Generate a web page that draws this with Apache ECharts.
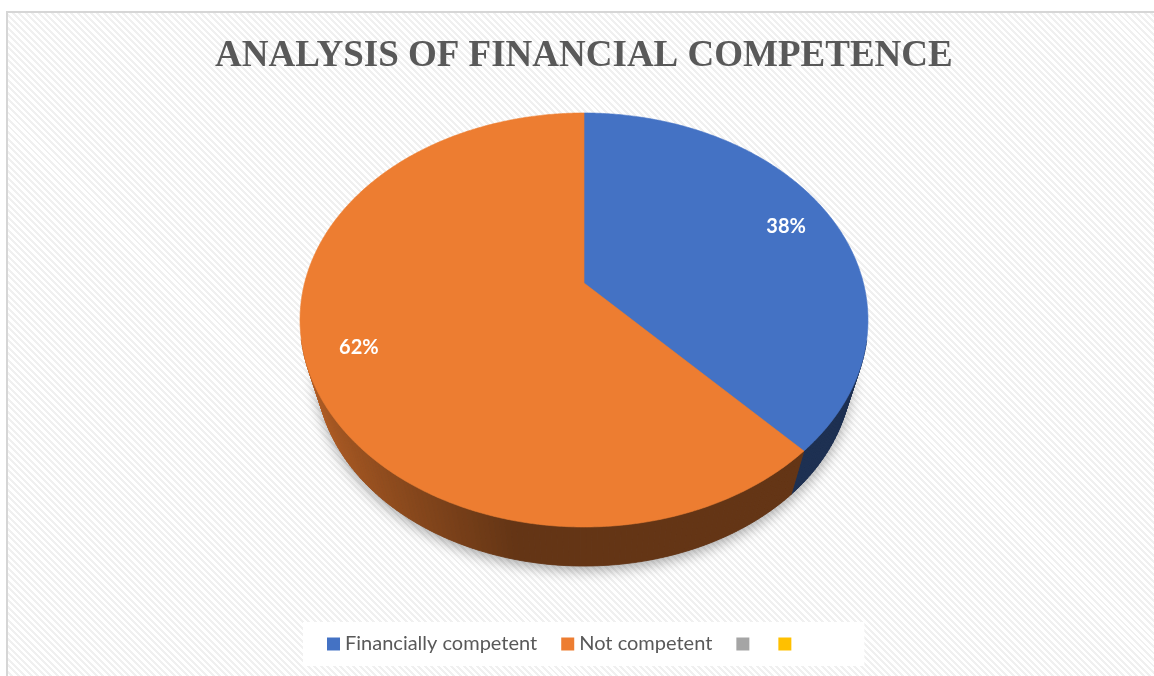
<!DOCTYPE html>
<html>
<head>
<meta charset="utf-8">
<title>Analysis of Financial Competence</title>
<script src="https://cdn.jsdelivr.net/npm/echarts@6/dist/echarts.min.js"></script>
<style>
  html, body { margin: 0; padding: 0; background: #ffffff; }
  #frame {
    position: absolute; left: 6px; top: 11px; width: 1170px; height: 690px;
    border-left: 2px solid #d6d6d6; border-top: 2px solid #d6d6d6;
    background: repeating-linear-gradient(45deg, #ffffff 0px, #ffffff 2.5px, #f0f0f0 2.5px, #f0f0f0 4.6px);
  }
  #chart { position: absolute; left: 0; top: 0; width: 1154px; height: 676px; }
</style>
</head>
<body>
<div id="frame"></div>
<div id="chart"></div>
<script>
// Survey result: share of respondents by financial competence
const titleText = 'ANALYSIS OF FINANCIAL COMPETENCE';
const categories = ['Financially competent', 'Not competent', '\u200b', '\u200b\u200b'];
const shares = [38, 62, 0, 0];
const colors = ['#4472C4', '#ED7D31', '#A5A5A5', '#FFC000'];

// Tilted 3D pie geometry (perspective view of a disc)
const CX = 584, CY = 283;          // projected centre of the disc
const RX = 279.4, RY = 200.4;      // horizontal / vertical radii
const K = 0.1787;                  // perspective strength
const VPY = 1200, S = 0.942;       // vanishing point and scale of the lower rim
const LABEL_R = 0.82;

const total = shares.reduce((a, b) => a + b, 0);
const rad = d => d * Math.PI / 180;

function topPoint(deg, f) {
  const u = f * Math.sin(rad(deg));
  const v = -f * Math.cos(rad(deg));
  const d = 1 - K * v;
  return [CX + RX * u / d, CY + RY * v / d];
}
function lowerPoint(p) {
  return [CX + S * (p[0] - CX), VPY + S * (p[1] - VPY)];
}

const topOutline = [];
for (let a = 0; a < 360; a += 0.5) topOutline.push(topPoint(a, 1));

function insideTop(pt) {
  let inside = false;
  const n = topOutline.length;
  for (let i = 0, j = n - 1; i < n; j = i++) {
    const xi = topOutline[i][0], yi = topOutline[i][1];
    const xj = topOutline[j][0], yj = topOutline[j][1];
    if (((yi > pt[1]) !== (yj > pt[1])) &&
        (pt[0] < (xj - xi) * (pt[1] - yi) / (yj - yi) + xi)) inside = !inside;
  }
  return inside;
}

function shade(hex, f) {
  const n = parseInt(hex.slice(1), 16);
  const r = Math.round(((n >> 16) & 255) * f);
  const g = Math.round(((n >> 8) & 255) * f);
  const b = Math.round((n & 255) * f);
  return 'rgb(' + r + ',' + g + ',' + b + ')';
}
function sideFactor(deg) {
  const u = Math.sin(rad(deg));
  return 0.42 + 0.36 * Math.max(0, (-u - 0.2) / 0.8);
}

function renderSlice(params) {
  const i = params.seriesIndex;
  const val = shares[i];
  const children = [];

  if (i === 0) {
    // soft drop shadow beneath the disc
    const rim = [];
    for (let a = 0; a < 360; a += 1) rim.push(lowerPoint(topPoint(a, 1)));
    children.push({
      type: 'polygon', z2: 0, silent: true,
      shape: { points: rim },
      style: { fill: '#6a6a6a', shadowBlur: 14, shadowColor: 'rgba(0,0,0,0.35)', shadowOffsetY: 4 }
    });
  }
  if (!val) return { type: 'group', children: children };

  let before = 0;
  for (let j = 0; j < i; j++) before += shares[j];
  const a0 = before / total * 360;
  const a1 = (before + val) / total * 360;

  // side wall
  const steps = Math.max(2, Math.ceil(a1 - a0));
  for (let s = 0; s < steps; s++) {
    const t0 = a0 + (a1 - a0) * s / steps;
    const t1 = a0 + (a1 - a0) * (s + 1) / steps;
    const p0 = topPoint(t0, 1), p1 = topPoint(t1, 1);
    const b0 = lowerPoint(p0), b1 = lowerPoint(p1);
    if (insideTop(b0) && insideTop(b1)) continue;
    const mid = (t0 + t1) / 2;
    const c = shade(colors[i], sideFactor(mid));
    children.push({
      type: 'polygon', z2: 10 - Math.cos(rad(mid)),
      shape: { points: [p0, p1, b1, b0] },
      style: { fill: c, stroke: c, lineWidth: 0.8 }
    });
  }

  // top face
  const face = [[CX, CY]];
  const n = Math.max(2, Math.ceil((a1 - a0) * 2));
  for (let s = 0; s <= n; s++) face.push(topPoint(a0 + (a1 - a0) * s / n, 1));
  children.push({
    type: 'polygon', z2: 50,
    shape: { points: face },
    style: { fill: colors[i], stroke: colors[i], lineWidth: 0.6 }
  });

  // percentage label
  const lp = topPoint((a0 + a1) / 2, LABEL_R);
  children.push({
    type: 'text', z2: 60, x: lp[0], y: lp[1] + 1,
    style: {
      text: Math.round(val / total * 100) + '%',
      fill: '#ffffff', fontFamily: 'Lato', fontWeight: 'bold', fontSize: 20,
      align: 'center', verticalAlign: 'middle'
    }
  });
  return { type: 'group', children: children };
}

const chart = echarts.init(document.getElementById('chart'), null, { renderer: 'canvas' });
chart.setOption({
  animation: false,
  backgroundColor: 'transparent',
  title: {
    text: titleText,
    left: 215, top: 38, padding: 0,
    textStyle: {
      fontFamily: '"Liberation Serif", "Times New Roman", serif',
      fontSize: 37, fontWeight: 'bold', color: '#595959'
    }
  },
  legend: {
    data: categories,
    left: 303, top: 622,
    backgroundColor: '#ffffff',
    padding: [12, 68, 12, 24],
    icon: 'rect', itemWidth: 13, itemHeight: 13, itemGap: 24,
    selectedMode: false,
    textStyle: { fontFamily: 'Lato', fontSize: 20, color: '#595959' }
  },
  series: categories.map((name, i) => ({
    type: 'custom',
    name: name,
    coordinateSystem: 'none',
    itemStyle: { color: colors[i] },
    data: [[shares[i]]],
    renderItem: renderSlice
  }))
});
</script>
</body>
</html>
